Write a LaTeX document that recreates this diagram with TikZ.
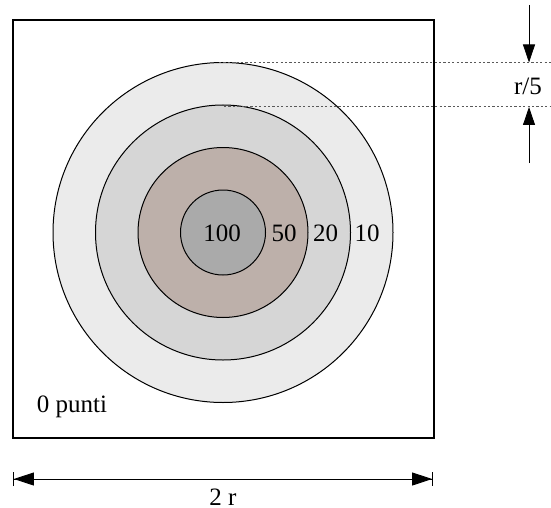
\documentclass[tikz,border=0pt]{standalone}
\usepackage{fontspec}
\setmainfont{Liberation Serif}
\usetikzlibrary{arrows.meta}
\definecolor{ringA}{RGB}{235,235,235}
\definecolor{ringB}{RGB}{214,214,214}
\definecolor{ringC}{RGB}{189,176,170}
\definecolor{ringD}{RGB}{170,170,170}
\tikzset{
  ring/.style={draw=black, line width=1pt},
  lbl/.style={inner sep=0pt, font=\fontsize{25}{28}\selectfont},
  guide/.style={draw=black!65, dash pattern=on 2.2pt off 2.2pt, line width=1pt},
  dimarrow/.style={line width=0.8pt, -{Triangle[length=18pt,width=12pt]}},
}
\begin{document}
\begin{tikzpicture}[x=1pt,y=-1pt]
\useasboundingbox (0,0) rectangle (551,508);
\fill[white] (0,0) rectangle (551,508);
% frame
\node[draw=black, line width=1.3pt, minimum width=421pt, minimum height=418pt, inner sep=0pt] (frame) at (223.5,229) {};
% target
\coordinate (c) at (223,232.5);
\draw[ring, fill=ringA] (c) circle[radius=170];
\draw[ring, fill=ringB] (c) circle[radius=127.5];
\draw[ring, fill=ringC] (c) circle[radius=85];
\draw[ring, fill=ringD] (c) circle[radius=42.5];
\node[lbl] (p100) at (222,233) {100};
\node[lbl] (p50) at (284,233) {50};
\node[lbl] (p20) at (325.5,233) {20};
\node[lbl] (p10) at (367,233) {10};
\node[lbl] (p0) at (72,407) {0 punti};
% r/5 dimension
\coordinate (g1a) at (219,62.5);
\coordinate (g1b) at (551,62.5);
\coordinate (g2a) at (224,107);
\coordinate (g2b) at (551,107);
\draw[guide] (g1a) -- (g1b);
\draw[guide] (g2a) -- (g2b);
\coordinate (t0) at (529,5);
\coordinate (t1) at (529,62.5);
\coordinate (b0) at (529,163);
\coordinate (b1) at (529,107);
\draw[dimarrow] (t0) -- (t1);
\draw[dimarrow] (b0) -- (b1);
\node[lbl] (r5) at (528,86) {r/5};
% 2r dimension
\coordinate (l) at (13,479);
\coordinate (r) at (433,479);
\draw[line width=0.9pt, {Bar[width=14pt]Triangle[length=20pt,width=13pt]}-{Triangle[length=20pt,width=13pt]Bar[width=14pt]}] (l) -- (r);
\node[lbl] (tr) at (223,497) {2 r};
\end{tikzpicture}
\end{document}
